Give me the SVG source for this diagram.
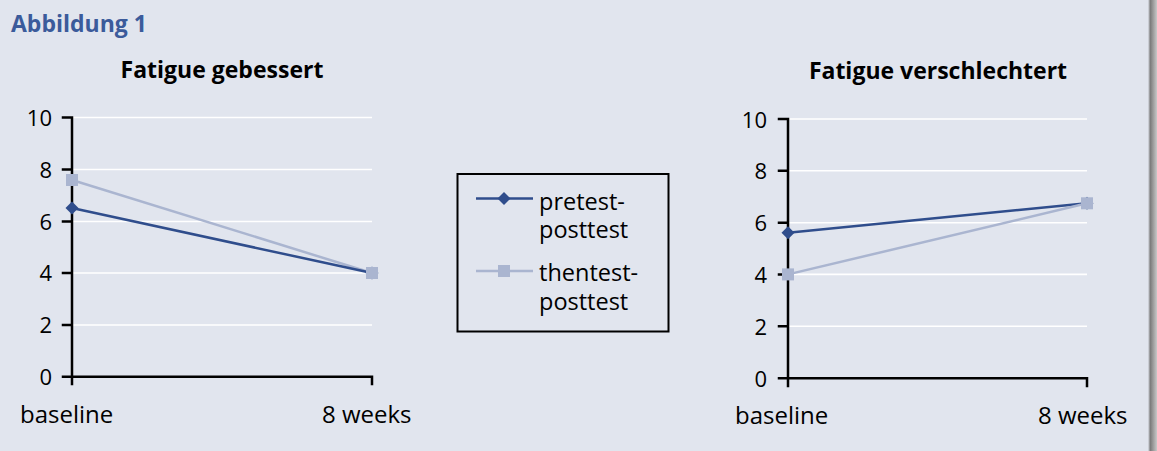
<svg xmlns="http://www.w3.org/2000/svg" width="1157" height="451" viewBox="0 0 1157 451">
<defs>
<style>
.bg{fill:#e1e5ee}
.grid{stroke:#ffffff;stroke-width:1.6;fill:none}
.axis{stroke:#000;stroke-width:2.5;fill:none;stroke-linecap:square}
.t{font-family:"Open Sans","Liberation Sans",sans-serif;fill:#000}
.ylab{font-size:22px;text-anchor:end}
.xlab{font-size:24px}
.leg{font-size:23.5px}
.title{font-size:23px;font-weight:bold;text-anchor:middle}
.head{font-size:23px;font-weight:bold;fill:#3b5b9b}
.pre{stroke:#2f4d8c;stroke-width:2.5;fill:none}
.then{stroke:#aab5d0;stroke-width:2.5;fill:none}
.dia{fill:#2f4d8c}
.sq{fill:#aab5d0}
</style>
<linearGradient id="shadow" x1="0" y1="0" x2="1" y2="0">
<stop offset="0" stop-color="#e1e5ee"/>
<stop offset="0.25" stop-color="#7a7a7a"/>
<stop offset="1" stop-color="#c8c8c8"/>
</linearGradient>
<path id="diamond" d="M0,-6.5 L6.5,0 L0,6.5 L-6.5,0 Z"/>
<rect id="square" x="-6" y="-6" width="12" height="12"/>
</defs>
<rect class="bg" x="0" y="0" width="1157" height="451"/>
<rect x="1148" y="0" width="9" height="451" fill="url(#shadow)"/>

<g id="heading">
<text class="t head" x="11" y="32">Abbildung 1</text>
</g>

<g id="chart-left">
<text class="t title" x="222" y="78">Fatigue gebessert</text>
<g class="grid">
<line x1="72" y1="117.5" x2="372" y2="117.5"/>
<line x1="72" y1="169.5" x2="372" y2="169.5"/>
<line x1="72" y1="221.5" x2="372" y2="221.5"/>
<line x1="72" y1="273" x2="372" y2="273"/>
<line x1="72" y1="325" x2="372" y2="325"/>
</g>
<path class="axis" d="M72,117.5 V376.7 H372 M63,117.5 H72 M63,169.5 H72 M63,221.5 H72 M63,273 H72 M63,325 H72 M63,376.7 H72 M72,376.7 V384 M372,376.7 V384"/>
<g class="t ylab">
<text x="52" y="126">10</text>
<text x="52" y="177.5">8</text>
<text x="52" y="229.5">6</text>
<text x="52" y="281">4</text>
<text x="52" y="333">2</text>
<text x="52" y="384.5">0</text>
</g>
<text class="t xlab" x="20" y="423">baseline</text>
<text class="t xlab" x="322" y="423">8 weeks</text>
</g>

<g id="chart-right">
<text class="t title" x="938" y="79">Fatigue verschlechtert</text>
<g class="grid">
<line x1="788" y1="119" x2="1087" y2="119"/>
<line x1="788" y1="170.8" x2="1087" y2="170.8"/>
<line x1="788" y1="222.7" x2="1087" y2="222.7"/>
<line x1="788" y1="274.4" x2="1087" y2="274.4"/>
<line x1="788" y1="326.3" x2="1087" y2="326.3"/>
</g>
<path class="axis" d="M788,119 V378.3 H1087 M779,119 H788 M779,170.8 H788 M779,222.7 H788 M779,274.4 H788 M779,326.3 H788 M779,378.3 H788 M788,378.3 V386 M1087,378.3 V386"/>
<g class="t ylab">
<text x="767" y="127.5">10</text>
<text x="767" y="179">8</text>
<text x="767" y="231">6</text>
<text x="767" y="282.5">4</text>
<text x="767" y="334.5">2</text>
<text x="767" y="386.5">0</text>
</g>
<text class="t xlab" x="735" y="424">baseline</text>
<text class="t xlab" x="1038" y="424">8 weeks</text>
</g>

<g id="legend">
<rect x="457.5" y="174" width="211" height="157.5" fill="none" stroke="#000" stroke-width="2"/>
<line class="pre" x1="476" y1="198.5" x2="533" y2="198.5"/>
<use href="#diamond" class="dia" x="504" y="198.5"/>
<line class="then" x1="476" y1="271" x2="533" y2="271"/>
<use href="#square" class="sq" x="504" y="271"/>
<text class="t leg" x="539" y="210">pretest-</text>
<text class="t leg" x="539" y="238">posttest</text>
<text class="t leg" x="539" y="281">thentest-</text>
<text class="t leg" x="539" y="310">posttest</text>
</g>

<g id="connectors">
<polyline class="then" points="72,180 372,273"/>
<polyline class="pre" points="72,208 372,273"/>
<use href="#square" class="sq" x="72" y="180"/>
<use href="#diamond" class="dia" x="72" y="208"/>
<use href="#diamond" class="dia" x="372" y="273"/>
<use href="#square" class="sq" x="372" y="273"/>
<polyline class="pre" points="788,232.7 1087,203.3"/>
<polyline class="then" points="788,274.4 1087,203.3"/>
<use href="#diamond" class="dia" x="788" y="232.7"/>
<use href="#square" class="sq" x="788" y="274.4"/>
<use href="#diamond" class="dia" x="1087" y="203.3"/>
<use href="#square" class="sq" x="1087" y="203.3"/>
</g>
</svg>
